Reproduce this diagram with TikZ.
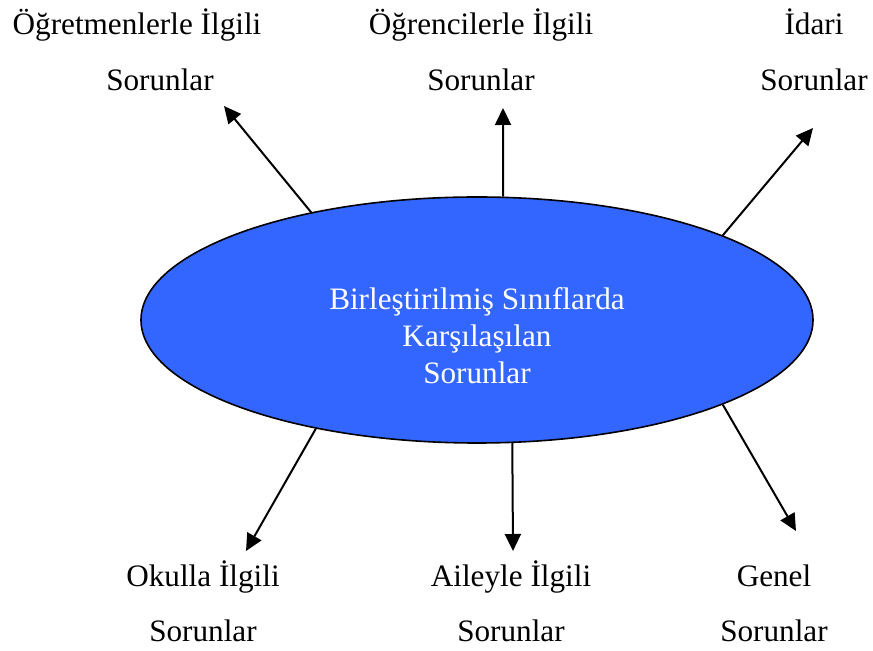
\documentclass[tikz,border=0pt]{standalone}
\usepackage{fontspec}
\setmainfont{Liberation Serif}
\usetikzlibrary{arrows.meta,shapes.geometric}
\definecolor{hubblue}{RGB}{51,102,255}

\begin{document}
\begin{tikzpicture}[x=0.5pt,y=-0.5pt,->,>={Triangle[length=8.5pt,width=8pt]},line width=1pt,
  hub/.style={ellipse,draw,fill=hubblue,line width=0.8pt,minimum width=336pt,minimum height=123pt,inner sep=0pt},
  hubtext/.style={text=white,align=center,font=\fontsize{15.6}{18.5}\selectfont},
  topic/.style={align=center,anchor=base,inner sep=0pt,font=\fontsize{15.6}{28}\selectfont}]
\useasboundingbox (0,0) rectangle (873,651);
\node[hub] (hub) at (477,320) {};
\node[hubtext] (title) at (477,336) {Birleştirilmiş Sınıflarda\\Karşılaşılan\\Sorunlar};

% labels round the ellipse
\node[topic] (teach) at (137,91) {Öğretmenlerle İlgili\\\hspace*{23pt}Sorunlar};
\node[topic] (stud)  at (481,91) {Öğrencilerle İlgili\\Sorunlar};
\node[topic] (admin) at (814,91) {İdari\\Sorunlar};
\node[topic] (school) at (203,642) {Okulla İlgili\\Sorunlar};
\node[topic] (family) at (511,642) {Aileyle İlgili\\Sorunlar};
\node[topic] (general) at (774,642) {Genel\\Sorunlar};

\coordinate (teach-tip) at (224,106);
\coordinate (stud-tip) at (503,108);
\coordinate (admin-tip) at (813,128);
\coordinate (school-tip) at (246,551);
\coordinate (family-tip) at (513,551);
\coordinate (general-tip) at (796,531);

\draw (hub.147.2) -- (teach-tip);
\draw (hub.78.1) -- (stud-tip);
\draw (hub.19.2) -- (admin-tip);
\draw (hub.214.5) -- (school-tip);
\draw (hub.286.3) -- (family-tip);
\draw (hub.341.2) -- (general-tip);
\end{tikzpicture}
\end{document}
